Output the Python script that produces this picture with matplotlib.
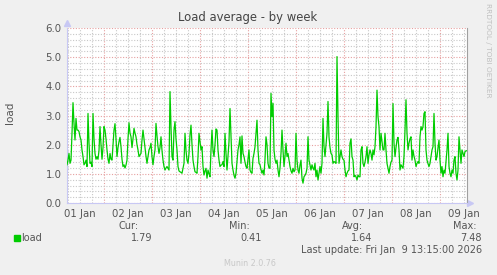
import datetime as dt
import matplotlib
matplotlib.use('Agg')
import matplotlib.pyplot as plt
import matplotlib.dates as mdates
from matplotlib.patches import Rectangle
import pandas as pd

# 30 minute samples, first one at 01 Jan 05:30
start = dt.datetime(2026, 1, 1, 5, 30)
load = [
    1.31, 1.47, 1.70, 1.36, 1.47, 2.39, 3.44, 2.73, 2.16, 2.90, 2.50, 2.50, 2.45, 2.27, 2.16, 1.82,
    1.59, 1.31, 1.36, 1.47, 1.25, 3.07, 2.05, 1.36, 1.40, 1.25, 3.07, 2.20, 1.70, 1.50, 1.59, 1.50,
    1.80, 2.62, 2.00, 1.50, 1.90, 2.62, 2.50, 2.20, 1.82, 1.50, 1.36, 1.70, 1.50, 1.47, 2.00, 2.50,
    2.72, 2.20, 1.59,
    1.90, 2.10, 2.25, 1.93, 1.50, 1.25, 1.31, 1.20, 1.30, 1.47, 2.20, 2.75, 2.40, 2.27, 1.90, 2.20,
    2.56, 2.40, 2.27, 2.00, 1.82, 1.59, 1.65, 1.70, 2.16, 2.50, 2.20, 1.93, 1.60, 1.36, 1.60, 1.82,
    1.90, 2.05, 1.59, 1.31, 1.60, 1.82, 2.73, 2.30, 1.93, 1.70, 1.90, 2.27, 1.80, 1.47, 1.25, 1.13,
    1.20, 1.25, 1.19, 1.13,
    3.82, 2.60, 1.59, 1.47, 2.50, 2.79, 2.20, 1.82, 1.25, 1.10, 1.07, 1.05, 1.02, 1.20, 1.36, 2.39,
    1.80, 1.47, 1.36, 1.70, 2.33, 2.67, 2.00, 1.47, 1.25, 1.07, 1.05, 1.02, 1.59, 2.39, 2.10, 1.82,
    1.93, 1.25, 0.96, 1.10, 1.19, 0.85, 1.13, 1.00, 0.90, 1.82, 2.50, 1.82, 1.59, 2.00, 2.54, 2.50,
    1.82,
    1.47, 1.25, 1.30, 1.31, 1.42, 1.25, 2.39, 1.70, 1.13, 1.60, 2.10, 3.24, 2.27, 1.36, 1.13, 0.95,
    0.85, 1.02, 1.40, 1.82, 2.00, 2.27, 1.36, 2.30, 1.70, 1.59, 1.40, 1.25, 1.19, 1.50, 1.82, 1.13,
    1.05, 1.02, 1.53, 1.70, 1.93, 2.40, 2.84, 1.82, 1.36, 1.31, 1.15, 1.02, 1.13, 0.96, 1.50, 2.27,
    2.00, 1.36, 1.20, 1.19,
    3.76, 2.96, 3.42, 1.82, 1.50, 1.36, 1.47, 1.13, 0.90, 1.20, 1.70, 2.50, 1.82, 1.25, 1.60, 2.05,
    1.59, 1.70, 1.47, 1.25, 1.10, 1.02, 1.19, 1.07, 1.13, 2.39, 1.47, 1.13, 1.02, 1.30, 1.47, 0.85,
    0.68, 0.90, 0.95, 1.02, 1.19, 2.27, 1.47, 1.30, 1.13, 1.31, 1.20, 1.13, 1.36, 0.90,
    1.13, 0.79, 1.02, 1.25, 1.02, 1.36, 2.90, 1.93, 1.59, 2.00, 2.39, 3.48, 2.27, 1.90, 1.70, 1.65,
    1.36, 1.42, 1.40, 1.36, 5.02, 2.96, 1.36, 1.60, 1.82, 1.59, 1.50, 1.47, 1.13, 0.90, 1.02, 1.10,
    1.13, 2.05, 2.20, 1.59, 1.47, 0.90, 0.95, 0.90, 0.79, 0.96, 0.90, 0.90, 1.82, 1.93, 1.36, 1.25,
    1.40, 1.59, 1.93,
    1.36, 1.65, 1.82, 1.70, 1.47, 1.82, 1.65, 1.93, 2.60, 3.87, 2.96, 2.62, 1.82, 2.39, 2.10, 1.82,
    1.82, 2.39, 1.82, 1.36, 1.19, 1.02, 1.25, 1.40, 1.47, 3.41, 2.05, 1.59, 1.90, 2.16, 2.25, 1.82,
    1.13, 1.31, 1.25, 1.19, 1.59, 2.50, 3.54, 2.39, 1.82, 2.05, 2.20, 2.27, 1.47, 1.82, 1.60, 1.47,
    1.25, 1.36, 1.42,
    1.36, 2.27, 2.62, 2.50, 2.62, 3.07, 3.13, 1.82, 1.47, 1.35, 1.25, 1.36, 1.60, 1.82, 1.93, 3.07,
    2.05, 1.47, 1.59, 1.90, 2.16, 1.47, 1.02, 1.25, 0.90, 1.13, 1.02, 1.40, 1.82, 2.39, 1.25, 1.02,
    0.90, 1.13, 1.02, 1.47, 1.59, 1.02, 0.79, 1.13, 2.27, 1.82, 1.36, 1.82, 1.70, 1.59, 1.76, 1.79,
    1.79,
]
stat_names = ['Cur:', 'Min:', 'Avg:', 'Max:']
stat_values = ['1.79', '0.41', '1.64', '7.48']
last_update = 'Last update: Fri Jan  9 13:15:00 2026'

times = pd.date_range(start, periods=len(load), freq='30min')

W, H = 497, 275
fig = plt.figure(figsize=(W / 100, H / 100), dpi=100, facecolor='#f0f0f0')
ax = fig.add_axes([67 / W, 72 / H, 400 / W, 175 / H])
ax.set_facecolor('white')

ax.plot(times, load, color='#00cc00', lw=0.9, zorder=3)

ax.set_xlim(start, start + dt.timedelta(hours=200))
ax.set_ylim(0, 6)

ax.xaxis.set_major_locator(mdates.DayLocator())
ax.xaxis.set_major_formatter(plt.NullFormatter())
ax.xaxis.set_minor_locator(mdates.HourLocator(byhour=[0, 6, 12, 18]))


def day_label(x, pos=None):
    d = mdates.num2date(x)
    return d.strftime('%d %b') if d.hour == 12 else ''


ax.xaxis.set_minor_formatter(plt.FuncFormatter(day_label))
ax.set_yticks([0, 1, 2, 3, 4, 5, 6])
ax.set_yticklabels(['0.0', '1.0', '2.0', '3.0', '4.0', '5.0', '6.0'])
ax.set_yticks([i * 0.2 for i in range(31)], minor=True)

ax.grid(which='minor', color='#c8c8c8', lw=0.8, ls=(0, (1, 1.5)), zorder=1)
ax.grid(which='major', color='#e6a0a0', lw=0.8, ls=(0, (1, 1.5)), zorder=2)
ax.tick_params(which='both', length=0, colors='#555555', labelsize=7.3)
ax.tick_params(axis='x', which='minor', pad=4)
ax.tick_params(axis='y', pad=4)

ax.spines['top'].set_visible(False)
ax.spines['left'].set_color('#c8c8f4')
ax.spines['bottom'].set_color('#c8c8f4')
ax.spines['right'].set_color('#a0a0a0')
ax.plot([0], [1.03], marker='^', color='#c8c8f4', ms=4, transform=ax.transAxes, clip_on=False)
ax.plot([1.008], [0], marker='>', color='#c8c8f4', ms=4, transform=ax.transAxes, clip_on=False)

fig.text(248 / W, 1 - 18 / H, 'Load average - by week', ha='center', va='center',
         fontsize=8.4, color='#444444')
fig.text(10 / W, 1 - 113 / H, 'load', rotation=90, ha='center', va='center',
         fontsize=7.5, color='#555555')
fig.text(488 / W, 1 - 50 / H, 'RRDTOOL / TOBI OETIKER', rotation=270, ha='center', va='center',
         fontsize=5.3, color='#c0c0c0')

# legend
fig.patches.append(Rectangle((14 / W, 1 - 241 / H), 6 / W, 6 / H, color='#00cc00',
                             transform=fig.transFigure))
fig.text(21 / W, 1 - 238 / H, 'load', ha='left', va='center', fontsize=7, color='#555555')
name_x = [139, 250, 363, 477]
val_x = [152, 262, 372, 482]
for n, v, nx, vx in zip(stat_names, stat_values, name_x, val_x):
    fig.text(nx / W, 1 - 226 / H, n, ha='right', va='center', fontsize=7, color='#555555')
    fig.text(vx / W, 1 - 238 / H, v, ha='right', va='center', fontsize=7, color='#555555')
fig.text(482 / W, 1 - 250 / H, last_update, ha='right', va='center', fontsize=7, color='#555555')
fig.text(250 / W, 1 - 263 / H, 'Munin 2.0.76', ha='center', va='center', fontsize=5.8, color='#c8c8c8')

fig.savefig('out.png', dpi=100, facecolor=fig.get_facecolor())
